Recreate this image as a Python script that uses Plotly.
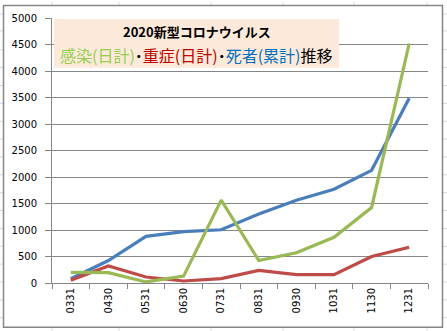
import plotly.graph_objects as go

categories = ["0331", "0430", "0531", "0630", "0731", "0831", "0930", "1031", "1130", "1231"]
infected_daily = [200, 195, 20, 130, 1563, 425, 570, 863, 1425, 4519]
severe_daily = [50, 320, 113, 38, 82, 238, 157, 157, 500, 675]
deaths_total = [80, 425, 880, 970, 1005, 1300, 1563, 1770, 2126, 3488]
y_ticks = list(range(0, 5001, 500))

W, H = 447, 331
L, R, T, B = 52, 428, 16, 283


def px(x):
    return (x - L) / (R - L)


def py(y):
    return (B - y) / (B - T)


fig = go.Figure()
fig.add_trace(go.Scatter(x=categories, y=deaths_total, mode="lines",
                         line=dict(color="#4A7EBB", width=3.2), name="死者(累計)"))
fig.add_trace(go.Scatter(x=categories, y=severe_daily, mode="lines",
                         line=dict(color="#BE4B48", width=3.2), name="重症(日計)"))
fig.add_trace(go.Scatter(x=categories, y=infected_daily, mode="lines",
                         line=dict(color="#98B954", width=3.2), name="感染(日計)"))

shapes = []
cell = "#D0D7E5"
for cx in [52, 119, 211, 283, 354, 427]:
    shapes.append(dict(type="line", xref="paper", yref="paper", x0=px(cx), x1=px(cx),
                       y0=py(0), y1=py(H), line=dict(color=cell, width=1), layer="below"))
for ry in [12, 29, 48, 66, 84, 102, 120, 138, 156, 174, 192, 210, 228, 246, 264, 282, 300, 318]:
    shapes.append(dict(type="line", xref="paper", yref="paper", x0=px(0), x1=px(W),
                       y0=py(ry), y1=py(ry), line=dict(color=cell, width=1), layer="below"))
shapes.append(dict(type="rect", xref="paper", yref="paper", x0=px(3.5), x1=px(442.5),
                   y0=py(3.5), y1=py(327.5), fillcolor="white",
                   line=dict(color="#868686", width=1.5), layer="below"))
shapes.append(dict(type="rect", xref="paper", yref="paper", x0=px(54), x1=px(339),
                   y0=py(17), y1=py(66), fillcolor="#FDE9D9",
                   line=dict(width=0), layer="above"))

title2 = ("<span style='color:#92D050'>感染(日計)</span>"
          "<span style='color:#000000'><b>･</b></span>"
          "<span style='color:#C00000'>重症(日計)</span>"
          "<span style='color:#000000'><b>･</b></span>"
          "<span style='color:#0070C0'>死者(累計)</span>"
          "<span style='color:#000000'>推移</span>")

annotations = [
    dict(xref="paper", yref="paper", x=px(196.5), y=py(30), text="<b>2020新型コロナウイルス</b>",
         showarrow=False, xanchor="center", yanchor="middle",
         font=dict(family="Noto Sans CJK JP", size=13, color="black")),
    dict(xref="paper", yref="paper", x=px(196.5), y=py(53), text=title2,
         showarrow=False, xanchor="center", yanchor="middle",
         font=dict(family="Noto Sans CJK JP", size=16, color="black")),
]

fig.update_layout(
    width=W, height=H,
    margin=dict(l=L, r=W - R, t=T, b=H - B, pad=0),
    paper_bgcolor="white", plot_bgcolor="white",
    showlegend=False,
    shapes=shapes, annotations=annotations,
    xaxis=dict(type="category", range=[-0.5, len(categories) - 0.5],
               tickmode="array", tickvals=categories, ticktext=categories,
               tickson="boundaries", ticks="outside", ticklen=5, tickcolor="#868686",
               showline=True, linecolor="#868686", linewidth=1,
               showgrid=False, zeroline=False, tickangle=-90,
               tickfont=dict(family="DejaVu Sans", size=10, color="black")),
    yaxis=dict(range=[0, 5000], tickmode="array", tickvals=y_ticks,
               ticktext=[str(v) for v in y_ticks],
               ticks="outside", ticklen=6, tickcolor="#868686",
               showline=True, linecolor="#868686", linewidth=1,
               showgrid=True, gridcolor="#868686", gridwidth=1, zeroline=False,
               ticklabelstandoff=6,
               tickfont=dict(family="DejaVu Sans", size=10, color="black")),
)

fig.write_html("out.html")
